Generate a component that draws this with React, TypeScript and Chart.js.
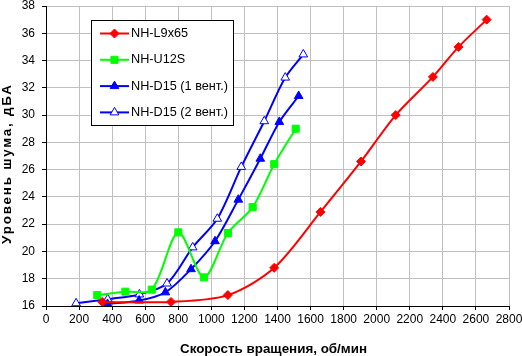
import React, { useEffect, useRef } from 'react';
import { Chart, registerables } from 'chart.js';

Chart.register(...registerables);

// ---- data ----
const seriesLabels = ['NH-L9x65', 'NH-U12S', 'NH-D15 (1 вент.)', 'NH-D15 (2 вент.)'];

const l9x65Rpm = [340, 756, 1100, 1380, 1660, 1905, 2115, 2340, 2495, 2665];
const l9x65Noise = [16.3, 16.3, 16.8, 18.8, 22.9, 26.6, 30.0, 32.8, 35.0, 37.0];

const u12sRpm = [310, 480, 640, 800, 955, 1100, 1250, 1380, 1510];
const u12sNoise = [16.8, 17.05, 17.2, 21.4, 18.1, 21.35, 23.25, 26.4, 29.0];

const d15OneRpm = [372, 563, 722, 877, 1022, 1163, 1296, 1411, 1528];
const d15OneNoise = [16.15, 16.4, 17.0, 18.7, 20.75, 23.8, 26.8, 29.5, 31.4];

const d15TwoRpm = [182, 373, 565, 732, 887, 1036, 1181, 1320, 1447, 1556];
const d15TwoNoise = [16.2, 16.5, 16.85, 17.65, 20.3, 22.4, 26.2, 29.55, 32.75, 34.45];

const xMin = 0;
const xMax = 2800;
const xStep = 200;
const yMin = 16;
const yMax = 38;
const yStep = 2;

const xTitle = 'Скорость вращения, об/мин';
const yTitle = 'Уровень шума, дБА';

const FONT = "'Liberation Sans', Arial, sans-serif";

const toPoints = (xs: number[], ys: number[]) => xs.map((x, i) => ({ x, y: ys[i] }));

function drawMarker(ctx: CanvasRenderingContext2D, style: string, x: number, y: number, r: number, fill: string, stroke: string) {
  ctx.beginPath();
  if (style === 'rectRot') {
    ctx.moveTo(x - r, y);
    ctx.lineTo(x, y - r);
    ctx.lineTo(x + r, y);
    ctx.lineTo(x, y + r);
  } else if (style === 'rect') {
    const s = Math.SQRT1_2 * r;
    ctx.rect(x - s, y - s, 2 * s, 2 * s);
  } else {
    for (let k = 0; k < 3; k++) {
      const a = (k * 2 * Math.PI) / 3;
      const px = x + Math.sin(a) * r;
      const py = y - Math.cos(a) * r;
      if (k === 0) ctx.moveTo(px, py);
      else ctx.lineTo(px, py);
    }
  }
  ctx.closePath();
  ctx.fillStyle = fill;
  ctx.fill();
  ctx.lineWidth = 1;
  ctx.strokeStyle = stroke;
  ctx.stroke();
}

const boxLegend = {
  id: 'boxLegend',
  afterDraw(chart: any) {
    const ctx: CanvasRenderingContext2D = chart.ctx;
    const left = 91;
    const top = 20;
    const w = 142;
    const h = 105;
    ctx.save();
    ctx.fillStyle = '#ffffff';
    ctx.fillRect(left, top, w, h);
    ctx.strokeStyle = '#000000';
    ctx.lineWidth = 1;
    ctx.strokeRect(left + 0.5, top + 0.5, w, h);
    chart.data.datasets.forEach((ds: any, i: number) => {
      const cy = 33.5 + i * 26.3;
      ctx.beginPath();
      ctx.strokeStyle = ds.borderColor;
      ctx.lineWidth = 2;
      ctx.moveTo(100, cy);
      ctx.lineTo(129, cy);
      ctx.stroke();
      drawMarker(ctx, ds.pointStyle, 114.5, cy, ds.pointRadius, ds.pointBackgroundColor, ds.pointBorderColor);
      ctx.fillStyle = '#000000';
      ctx.font = `12.7px ${FONT}`;
      ctx.textAlign = 'left';
      ctx.textBaseline = 'middle';
      ctx.fillText(ds.label, 131, cy);
    });
    ctx.restore();
  },
};

const axisTitles = {
  id: 'axisTitles',
  afterDraw(chart: any) {
    const ctx: any = chart.ctx;
    ctx.save();
    ctx.fillStyle = '#000000';
    ctx.font = `bold 13.4px ${FONT}`;
    ctx.textAlign = 'center';
    ctx.textBaseline = 'alphabetic';
    ctx.fillText(xTitle, 273.5, 353);
    ctx.translate(10.5, 164.5);
    ctx.rotate(-Math.PI / 2);
    ctx.letterSpacing = '1.8px';
    ctx.fillText(yTitle, 0.9, 0);
    ctx.restore();
  },
};

export default function App() {
  const canvasRef = useRef<HTMLCanvasElement | null>(null);

  useEffect(() => {
    const canvas = canvasRef.current;
    if (!canvas) return;
    const common = {
      borderWidth: 2,
      tension: 0.3,
      pointBorderWidth: 1,
      fill: false,
    };
    const chart = new Chart(canvas, {
      type: 'line',
      data: {
        datasets: [
          {
            ...common,
            label: seriesLabels[0],
            data: toPoints(l9x65Rpm, l9x65Noise),
            borderColor: '#ff0000',
            pointStyle: 'rectRot',
            pointRadius: 4.5,
            pointBackgroundColor: '#ff0000',
            pointBorderColor: '#ff0000',
          },
          {
            ...common,
            label: seriesLabels[1],
            data: toPoints(u12sRpm, u12sNoise),
            borderColor: '#00ff00',
            pointStyle: 'rect',
            pointRadius: 5,
            pointBackgroundColor: '#00ff00',
            pointBorderColor: '#00ff00',
          },
          {
            ...common,
            label: seriesLabels[2],
            data: toPoints(d15OneRpm, d15OneNoise),
            borderColor: '#0000ff',
            pointStyle: 'triangle',
            pointRadius: 5,
            pointBackgroundColor: '#0000ff',
            pointBorderColor: '#0000ff',
          },
          {
            ...common,
            label: seriesLabels[3],
            data: toPoints(d15TwoRpm, d15TwoNoise),
            borderColor: '#0000ff',
            pointStyle: 'triangle',
            pointRadius: 5,
            pointBackgroundColor: '#ffffff',
            pointBorderColor: '#0000ff',
          },
        ],
      },
      options: {
        responsive: false,
        animation: false,
        devicePixelRatio: 1,
        layout: { padding: { top: 5, right: 13, left: 0, bottom: 0 } },
        plugins: {
          legend: { display: false },
          tooltip: { enabled: false },
        },
        scales: {
          x: {
            type: 'linear',
            min: xMin,
            max: xMax,
            ticks: {
              stepSize: xStep,
              color: '#000000',
              font: { family: FONT, size: 12 },
              padding: 2,
              maxRotation: 0,
              autoSkip: false,
              callback: (v: any) => String(v),
            },
            grid: { color: '#c0c0c0', lineWidth: 1, tickColor: '#000000', tickLength: 4 },
            border: { color: '#000000', width: 1 },
            afterFit: (s: any) => {
              s.height = 50;
              s.paddingLeft = 0;
              s.paddingRight = 0;
            },
          },
          y: {
            type: 'linear',
            min: yMin,
            max: yMax,
            ticks: {
              stepSize: yStep,
              color: '#000000',
              font: { family: FONT, size: 12 },
              padding: 7,
              callback: (v: any) => String(v),
            },
            grid: { color: '#c0c0c0', lineWidth: 1, tickColor: '#000000', tickLength: 4 },
            border: { color: '#000000', width: 1 },
            afterFit: (s: any) => {
              s.width = 46;
              s.paddingTop = 0;
              s.paddingBottom = 0;
            },
          },
        },
      },
      plugins: [boxLegend, axisTitles],
    } as any);
    return () => chart.destroy();
  }, []);

  return (
    <div style={{ position: 'absolute', left: 0, top: 0, width: 522, height: 356, background: '#ffffff' }}>
      <canvas ref={canvasRef} width={522} height={356} style={{ display: 'block', width: 522, height: 356 }} />
    </div>
  );
}
